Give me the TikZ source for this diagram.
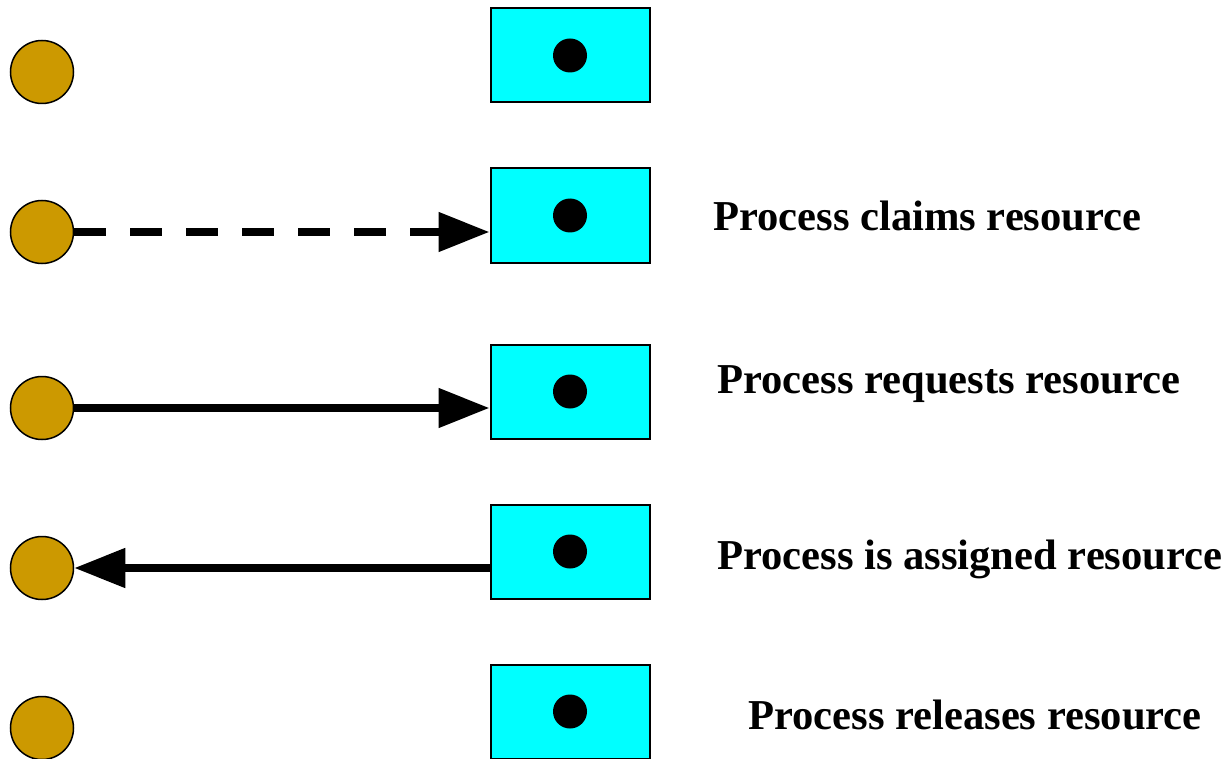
\documentclass[tikz,border=0pt]{standalone}
\usepackage{fontspec}
\setmainfont{Liberation Serif}
\usetikzlibrary{arrows.meta}
\definecolor{proc}{HTML}{CC9900}
\definecolor{res}{HTML}{00FFFF}
\tikzset{
  procnode/.style={circle, draw=black, line width=1.5pt, fill=proc, minimum size=63pt, inner sep=0pt},
  resnode/.style={rectangle, draw=black, line width=2pt, fill=res, minimum width=159pt, minimum height=94pt, inner sep=0pt},
  dotnode/.style={circle, fill=black, minimum size=34pt, inner sep=0pt},
  lbl/.style={anchor=base west, inner sep=0pt, font=\fontsize{42.6}{50}\selectfont\bfseries},
  edge/.style={line width=8pt, -{Triangle[length=51pt,width=38pt]}},
}
\begin{document}
\begin{tikzpicture}[x=1pt,y=-1pt]
\useasboundingbox (0,0) rectangle (1230,759);
% processes
\node[procnode] (c1) at (42,72) {};
\node[procnode] (c2) at (42,232) {};
\node[procnode] (c3) at (42,408) {};
\node[procnode] (c4) at (42,568) {};
\node[procnode] (c5) at (42,728) {};
% resources
\node[resnode] (b1) at (570,55.5) {};
\node[resnode] (b2) at (570,215.5) {};
\node[resnode] (b3) at (570,391.5) {};
\node[resnode] (b4) at (570,551.5) {};
\node[resnode] (b5) at (570,711.5) {};
\foreach \i in {1,...,5} { \node[dotnode] (d\i) at (b\i.center) {}; }
% edges
\draw[edge, dash pattern=on 32pt off 24pt] (c2.east) -- (c2.east -| b2.west);
\draw[edge] (c3.east) -- (c3.east -| b3.west);
\draw[edge] (c4.east -| b4.west) -- (c4.east);
% labels
\node[lbl] (t2) at (713,231) {Process claims resource};
\node[lbl] (t3) at (717,393) {Process requests resource};
\node[lbl] (t4) at (717,569) {Process is assigned resource};
\node[lbl] (t5) at (748,729) {Process releases resource};
\end{tikzpicture}
\end{document}
